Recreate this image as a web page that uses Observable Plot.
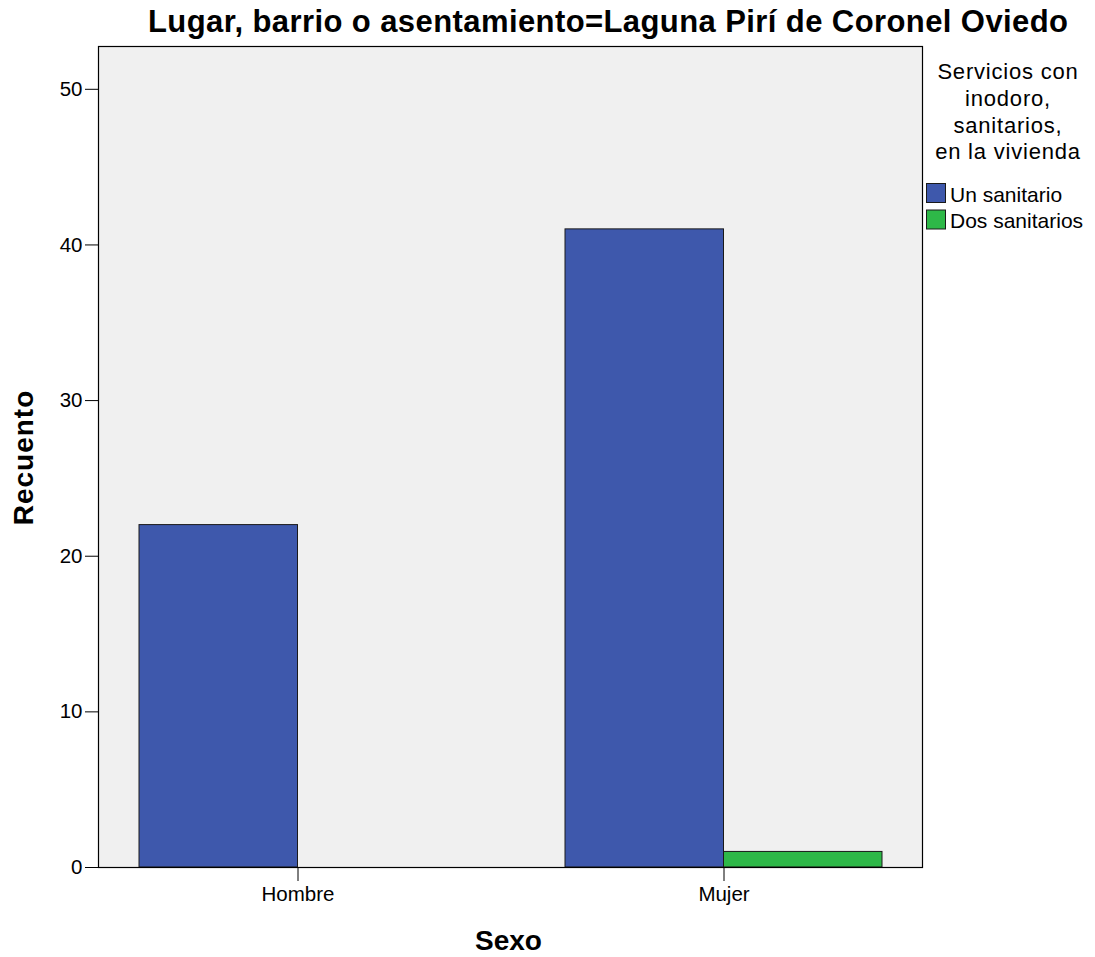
<!DOCTYPE html>
<html><head><meta charset="utf-8">
<script src="https://cdn.jsdelivr.net/npm/d3@7"></script>
<script src="https://cdn.jsdelivr.net/npm/@observablehq/plot@0.6"></script>
<style>body{margin:0;background:#fff} #chart{width:1095px;height:957px}</style>
</head><body><div id="chart"></div>
<script>
const categories = ["Hombre", "Mujer"];
const seriesNames = ["Un sanitario", "Dos sanitarios"];
const unSanitario = [22, 41];
const dosSanitarios = [0, 1];
const yTicks = [0, 10, 20, 30, 40, 50];
const seriesColors = ["#3e58ac", "#2eb848"];
const titleText = "Lugar, barrio o asentamiento=Laguna Pirí de Coronel Oviedo";
const legendTitle = ["Servicios con", "inodoro,", "sanitarios,", "en la vivienda"];
const xLabel = "Sexo";
const yLabel = "Recuento";

const rows = categories.flatMap((c, i) => [
  {sexo: c, serie: seriesNames[0], value: unSanitario[i]},
  {sexo: c, serie: seriesNames[1], value: dosSanitarios[i]}
]);

const font = "'Liberation Sans', Arial, sans-serif";
function build(half) {
  return Plot.plot({
    width: 1095, height: 957,
    marginLeft: 98, marginRight: 173, marginTop: 46, marginBottom: 90,
    style: {fontFamily: font, color: "#000", background: "#fff"},
    x: {type: "band", domain: categories, paddingInner: 0.256, paddingOuter: 0.0945, label: null},
    y: {domain: [0, 52.75], label: null},
    color: {domain: seriesNames, range: seriesColors},
    marks: [
      Plot.frame({fill: "#f0f0f0"}),
      Plot.barY(rows.filter(d => d.serie === seriesNames[0]), {x: "sexo", y: "value", fill: "serie", stroke: "#1a1a1a", strokeWidth: 1, insetRight: half}),
      Plot.barY(rows.filter(d => d.serie === seriesNames[1]), {x: "sexo", y: "value", fill: "serie", stroke: "#1a1a1a", strokeWidth: 1, insetLeft: half}),
      Plot.frame({stroke: "#000", strokeWidth: 1.2}),
      Plot.axisY(yTicks, {tickSize: 13, tickPadding: 3, fontSize: 20.5, label: null}),
      Plot.axisX({tickSize: 14, tickPadding: 5, fontSize: 20.5, label: null})
    ]
  });
}

const probe = build(0);
const bw = probe.scale("x").bandwidth;
const svg = build(bw / 2);
document.getElementById("chart").appendChild(svg);

const g = d3.select(svg).append("g").attr("font-family", font).attr("fill", "#000");
g.append("text").attr("x", 148).attr("y", 32).attr("font-size", 31).attr("font-weight", "bold")
  .attr("text-anchor", "start").attr("textLength", 920).attr("lengthAdjust", "spacing").text(titleText);
g.append("text").attr("x", 508.5).attr("y", 950).attr("font-size", 28).attr("font-weight", "bold")
  .attr("text-anchor", "middle").text(xLabel);
g.append("text").attr("transform", "translate(33,457.5) rotate(-90)").attr("font-size", 28).attr("font-weight", "bold")
  .attr("text-anchor", "middle").attr("letter-spacing", 1).text(yLabel);

const lg = g.append("g");
legendTitle.forEach((t, i) => {
  lg.append("text").attr("x", 1008).attr("y", 79.3 + i * 26.6).attr("font-size", 22)
    .attr("letter-spacing", 0.8).attr("text-anchor", "middle").text(t);
});
seriesNames.forEach((s, i) => {
  const y0 = 183.5 + i * 26.5;
  lg.append("rect").attr("x", 926.5).attr("y", y0).attr("width", 19).attr("height", 19)
    .attr("fill", seriesColors[i]).attr("stroke", "#1a1a1a").attr("stroke-width", 1);
  lg.append("text").attr("x", 950).attr("y", 201.7 + i * 26).attr("font-size", 21)
    .attr("text-anchor", "start").text(s);
});
</script>
</body></html>
